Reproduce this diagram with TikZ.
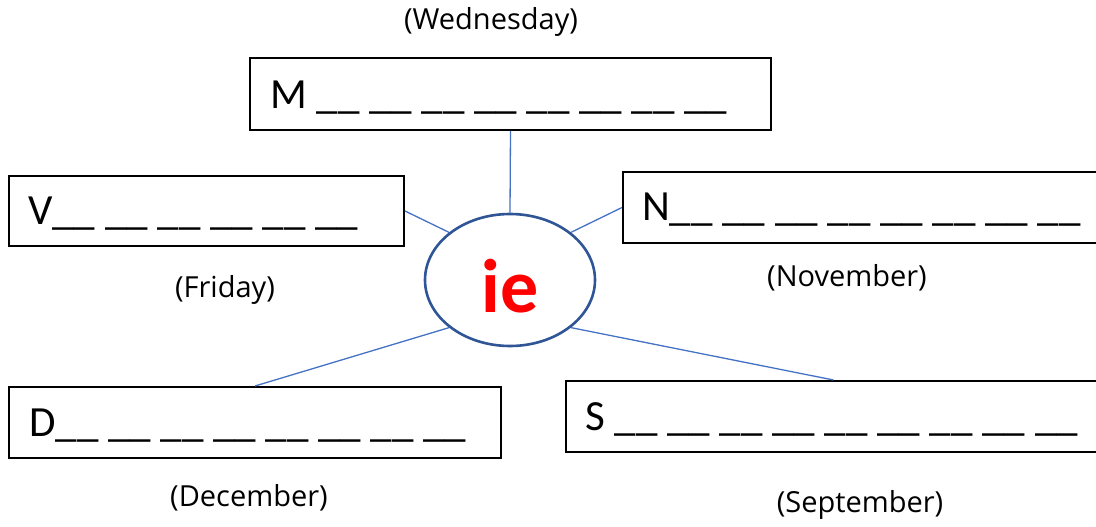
\documentclass[tikz,border=0pt]{standalone}
\usepackage{fontspec}
\setmainfont{Carlito}
\newfontfamily\glossfont{Open Sans}
\usetikzlibrary{shapes.geometric}
\definecolor{linkblue}{HTML}{4472C4}
\definecolor{ringblue}{HTML}{2F5597}
\definecolor{iered}{HTML}{FF0000}
\begin{document}
\begin{tikzpicture}[x=1pt,y=-1pt,
  box/.style={draw=black, line width=2pt, inner sep=0pt, anchor=north west},
  word/.style={font=\fontsize{43}{43}\selectfont, inner sep=0pt, anchor=base west},
  gloss/.style={font=\glossfont\fontsize{29}{29}\selectfont, inner sep=0pt},
  link/.style={draw=linkblue, line width=1.3pt}]
\useasboundingbox (0,0) rectangle (1096,527);
\clip (0,0) rectangle (1096,527);
\fill[white] (0,0) rectangle (1096,527);
% boxes
\node[box, minimum width=521pt, minimum height=72pt] (m) at (249,57) {};
\node[box, minimum width=395pt, minimum height=70pt] (v) at (8,175) {};
\node[box, minimum width=480pt, minimum height=71pt] (n) at (622,171) {};
\node[box, minimum width=492pt, minimum height=71pt] (d) at (8,386) {};
\node[box, minimum width=535pt, minimum height=71pt] (s) at (565,380) {};
% centre
\node[ellipse, draw=ringblue, line width=2.6pt, fill=white, minimum width=170pt, minimum height=132pt, inner sep=0pt] (c) at (510,280) {};
\node[font=\fontsize{76}{76}\selectfont\bfseries, text=iered, inner sep=0pt] (ie) at (510,286) {ie};
% box words
\node[word] (mt) at (270,108) {M \_\_ \_\_ \_\_ \_\_ \_\_ \_\_ \_\_ \_\_};
\node[word] (vt) at (28,224) {V\_\_ \_\_ \_\_ \_\_ \_\_ \_\_};
\node[word] (nt) at (642,220) {N\_\_ \_\_ \_\_ \_\_ \_\_ \_\_ \_\_ \_\_};
\node[word] (dt) at (29,436) {D\_\_ \_\_ \_\_ \_\_ \_\_ \_\_ \_\_ \_\_};
\node[word] (st) at (585,430) {S \_\_ \_\_ \_\_ \_\_ \_\_ \_\_ \_\_ \_\_ \_\_};
% glosses
\node[gloss] (mg) at (491,22) {(Wednesday)};
\node[gloss] (vg) at (225,290) {(Friday)};
\node[gloss] (ng) at (847,278) {(November)};
\node[gloss] (dg) at (249,498) {(December)};
\node[gloss] (sg) at (860,505) {(September)};
% connectors
\draw[link] (m.south) -- (c.north);
\draw[link] (v.east) -- (c.142);
\draw[link] (n.west) -- (c.38);
\draw[link] (d.north) -- (c.218);
\draw[link] (s.north) -- (c.322);
\end{tikzpicture}
\end{document}
